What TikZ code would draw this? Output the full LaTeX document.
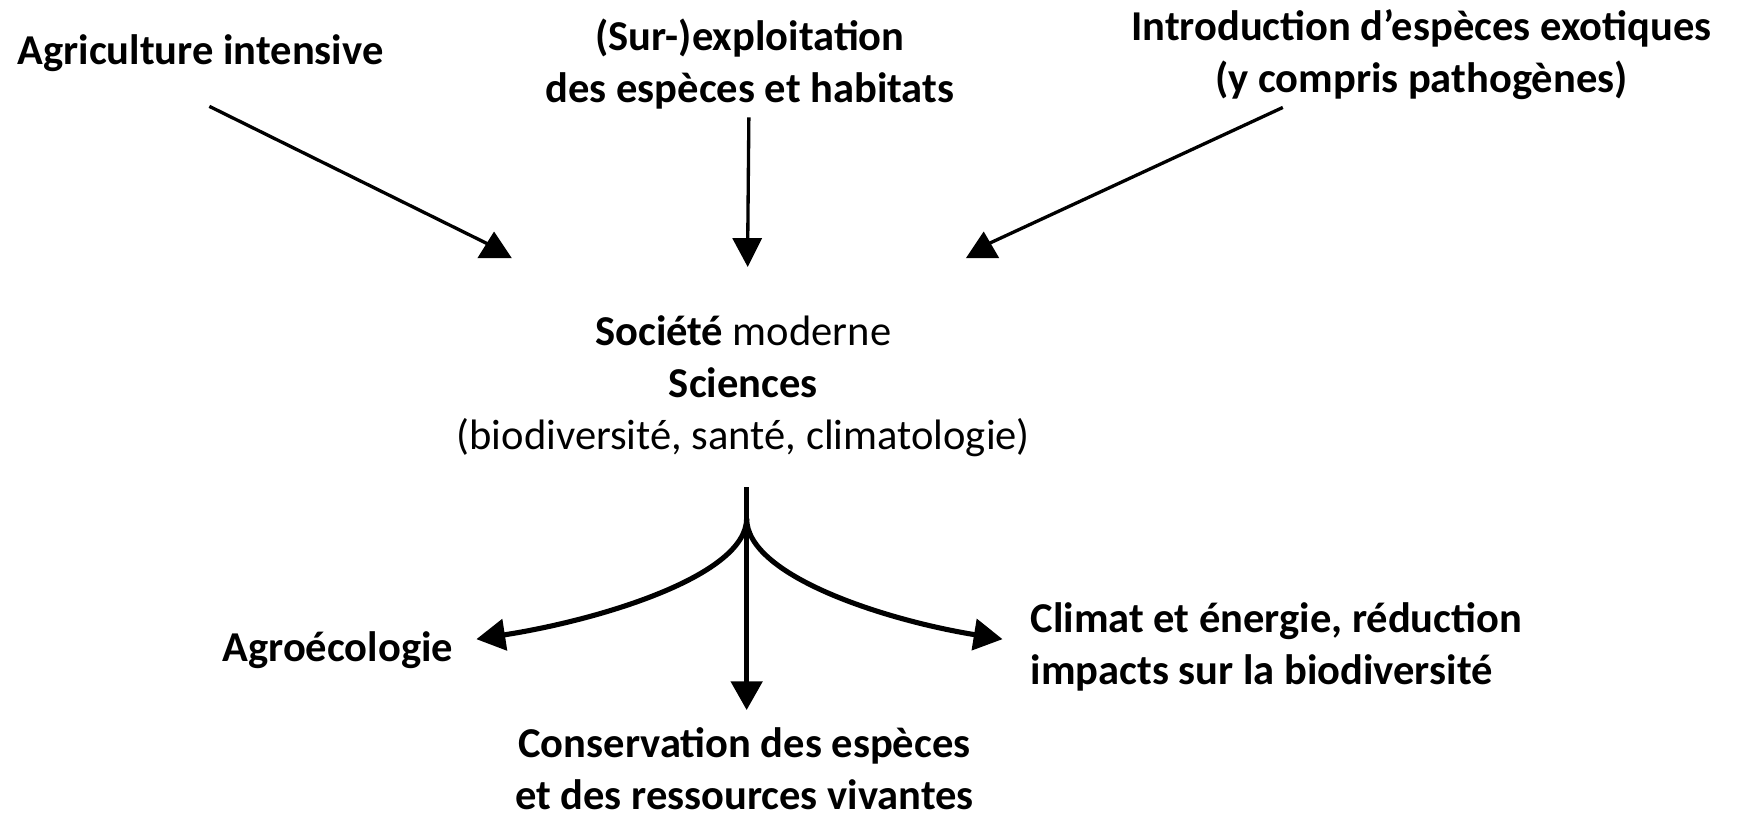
\documentclass[tikz,border=0pt]{standalone}
\usepackage{fontspec}
\setmainfont{Carlito}
\usetikzlibrary{arrows.meta}
\begin{document}
\begin{tikzpicture}[x=0.5pt,y=-0.5pt,
  lbl/.style={font=\fontsize{19.2pt}{23.5pt}\selectfont, align=center, inner sep=0pt},
  thin arrow/.style={line width=1.5pt},
  thick arrow/.style={line width=2.3pt, -{Triangle[width=14pt,length=13pt]}},
  tipfill/.style={fill=black}]
\useasboundingbox (0,0) rectangle (1568,737);
% nodes
\node[lbl] (agri) at (181,48) {\bfseries Agriculture intensive};
\node[lbl] (surexp) at (677,58) {\bfseries (Sur-)exploitation\\\bfseries des espèces et habitats};
\node[lbl] (intro) at (1283,49) {\bfseries Introduction d’espèces exotiques\\\bfseries (y compris pathogènes)};
\node[lbl] (soc) at (671,349) {\textbf{Société} moderne\\\textbf{Sciences}\\(biodiversité, santé, climatologie)};
\node[lbl] (agro) at (305,587) {\bfseries Agroécologie};
\node[lbl] (cons) at (672,694) {\bfseries Conservation des espèces\\\bfseries et des ressources vivantes};
\node[lbl, align=left, anchor=west] (clim) at (930,584) {\bfseries Climat et énergie, réduction\\\bfseries impacts sur la biodiversité};
% top connectors
\coordinate (a1s) at (189,96);
\coordinate (a1e) at (446,223);
\coordinate (a2s) at (676,106);
\coordinate (a2e) at (675,216);
\coordinate (a3s) at (1158,97);
\coordinate (a3e) at (888,222);
\draw[thin arrow] (a1s) -- (a1e);
\fill[tipfill] (a1e) ++(0,-14) -- ++(-15,24) -- ++(31,0) -- cycle;
\draw[thin arrow] (a2s) -- (a2e);
\fill[tipfill] (a2e) ++(0,25) -- ++(-14,-26) -- ++(27,0) -- cycle;
\draw[thin arrow] (a3s) -- (a3e);
\fill[tipfill] (a3e) ++(0,-13) -- ++(-16,24) -- ++(30,0) -- cycle;
% bottom connectors
\coordinate (stemtop) at (674,440);
\coordinate (fork) at (674,468);
\coordinate (agrotip) at (430,577);
\coordinate (constip) at (674,641);
\coordinate (climtip) at (905,577);
\draw[line width=2.3pt] (stemtop) -- (fork);
\draw[thick arrow] (fork) -- (constip);
\draw[thick arrow] (fork) .. controls (674,520) and (540,560) .. (agrotip);
\draw[thick arrow] (fork) .. controls (674,520) and (800,560) .. (climtip);
\end{tikzpicture}
\end{document}
